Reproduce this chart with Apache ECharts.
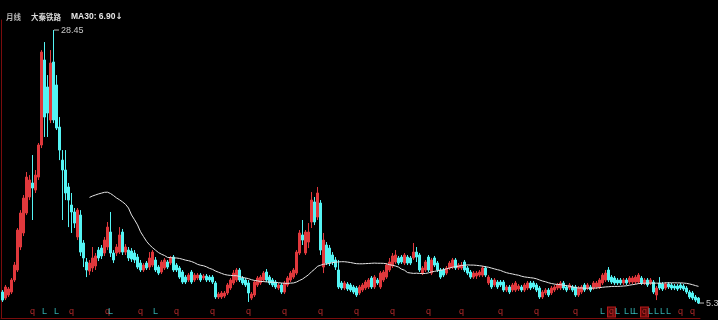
<!DOCTYPE html>
<html><head><meta charset="utf-8">
<script src="https://cdn.jsdelivr.net/npm/echarts@6/dist/echarts.min.js"></script>
<style>html,body{margin:0;padding:0;background:#000;}#c{width:718px;height:320px;}</style>
</head><body><div id="c"></div>
<script>
// Monthly OHLC, 大秦铁路 (601006), from 2006-08
const openV = [6.23,5.72,5.98,6.23,7.25,8.10,10.05,11.24,12.93,14.29,15.48,14.88,15.98,18.70,25.91,23.62,20.82,25.74,23.79,20.22,
17.42,16.58,15.14,13.61,13.02,10.90,12.76,10.39,8.78,8.01,8.27,8.44,9.79,9.96,9.54,10.05,11.32,9.54,9.54,9.62,
11.32,9.62,9.79,9.71,9.54,9.20,8.69,8.10,8.69,8.35,8.52,8.95,8.35,7.93,8.27,8.78,8.69,9.20,8.52,8.27,
7.93,7.50,7.25,7.93,7.25,7.42,7.67,7.42,7.59,7.50,7.50,7.00,5.81,5.81,5.89,6.15,6.57,7.00,7.25,8.10,
7.42,7.25,7.00,5.72,5.98,6.83,7.00,7.25,7.93,7.50,7.25,7.08,6.57,6.83,6.23,6.83,7.25,7.50,7.84,9.54,
11.07,9.54,10.47,12.17,13.87,12.59,13.78,8.35,10.22,9.96,9.37,8.95,8.10,7.00,6.57,6.91,6.83,6.66,6.57,6.15,
6.40,6.57,6.66,7.42,6.66,7.25,6.66,7.25,7.50,8.10,8.44,8.78,9.12,9.20,8.69,9.20,9.12,9.12,9.62,9.37,
7.84,8.10,9.20,7.84,9.12,8.69,8.10,8.10,7.84,8.27,8.35,8.95,8.27,8.27,8.78,8.27,7.93,7.50,7.59,7.67,
7.67,8.27,7.00,7.25,6.83,7.08,7.08,7.08,6.40,6.66,6.40,6.40,6.49,6.66,6.40,6.57,7.00,7.00,6.83,6.57,
5.81,6.15,6.40,6.15,6.40,6.57,6.57,7.00,6.66,6.57,6.66,6.66,5.98,6.23,6.83,6.57,6.66,6.57,6.66,6.66,
7.00,7.25,8.10,7.50,7.42,7.25,7.25,7.00,7.25,7.08,7.08,7.08,7.08,7.42,7.00,7.25,7.00,7.08,5.98,7.00,
6.91,6.57,6.91,6.83,6.74,6.74,6.83,6.74,6.57,6.23,6.15,5.81,5.72];
const closeV = [5.55,6.66,6.49,7.25,8.52,11.49,12.93,14.20,15.98,15.73,15.05,16.15,18.70,26.58,21.07,21.41,25.65,20.82,20.14,18.27,
16.58,14.63,14.03,13.02,12.08,13.18,9.62,9.12,8.10,8.69,9.12,9.29,9.12,9.29,10.64,11.74,9.54,8.95,10.05,11.07,
9.62,10.05,9.12,9.03,8.95,8.35,8.10,8.52,8.27,9.12,9.62,8.10,7.84,8.78,8.95,8.35,9.12,8.10,8.10,7.50,
7.08,7.08,7.67,7.08,7.67,7.67,7.25,7.59,7.25,7.25,7.08,5.81,6.06,6.15,6.15,6.83,7.25,7.84,8.10,7.25,
7.00,6.83,6.15,6.06,7.08,7.42,7.50,7.84,7.25,7.00,6.83,6.66,6.83,6.23,7.00,7.42,7.84,8.10,9.62,11.24,
10.64,11.32,11.32,14.03,12.17,14.63,9.79,10.64,8.69,8.69,8.78,8.35,6.66,6.57,7.00,6.49,6.40,6.23,5.98,6.66,
6.83,7.08,7.25,6.66,7.50,7.00,7.84,7.93,8.52,8.78,9.29,9.37,8.69,8.78,9.37,8.69,8.69,9.62,9.20,8.10,
8.27,8.78,8.10,8.95,8.52,8.10,7.50,7.67,8.27,8.69,8.95,8.27,8.52,8.52,8.10,7.84,7.50,7.84,7.84,7.93,
8.27,7.67,7.50,6.66,7.25,6.66,6.83,6.40,6.66,6.23,6.83,7.00,6.74,6.40,6.83,7.00,6.57,6.66,6.40,5.81,
6.23,6.40,5.98,6.57,6.66,6.83,7.00,6.57,6.40,6.83,6.40,5.98,6.57,6.66,6.40,6.83,6.40,7.00,7.00,7.25,
7.67,7.84,7.25,7.08,7.00,7.00,7.00,7.25,7.00,7.42,7.42,7.50,7.67,7.00,7.25,6.83,7.25,6.23,6.57,6.57,
6.49,6.91,6.66,6.57,6.57,6.49,6.57,6.49,6.23,5.81,5.72,5.55,5.30];
const lowV = [5.39,5.55,5.81,6.06,7.08,7.93,9.79,10.98,12.76,14.03,12.34,14.63,15.73,18.44,19.38,19.38,20.56,20.56,19.97,17.42,
12.34,14.03,11.74,11.24,11.66,10.64,9.29,8.35,7.50,7.67,7.93,8.10,8.86,9.03,9.29,9.79,9.20,8.69,9.29,9.46,
9.37,9.37,8.86,8.78,8.69,8.18,7.93,7.93,8.10,8.10,8.35,7.93,7.67,7.76,8.10,8.18,8.52,7.93,7.93,7.34,
6.91,6.91,7.08,6.91,7.08,7.25,7.08,7.25,7.08,7.08,6.91,5.64,5.64,5.64,5.72,5.98,6.40,6.83,7.08,7.08,
6.83,6.66,5.39,5.55,5.81,6.66,6.83,7.08,7.08,6.83,6.66,6.49,6.40,6.06,6.06,6.66,7.08,7.34,7.67,9.37,
10.22,9.37,9.96,11.66,11.91,12.34,9.37,7.84,8.52,8.44,8.52,8.10,6.49,6.40,6.40,6.32,6.23,6.06,5.81,5.98,
6.23,6.40,6.49,6.49,6.49,6.83,6.49,7.08,7.34,7.93,8.27,8.61,8.52,8.61,8.52,8.52,8.52,8.95,8.78,7.93,
7.67,7.93,7.93,7.67,8.35,7.93,7.34,7.50,7.67,8.10,8.18,8.10,8.10,8.10,7.93,7.67,7.34,7.34,7.34,7.50,
7.50,7.50,6.83,6.49,6.66,6.49,6.66,6.23,6.23,6.06,6.23,6.23,6.32,6.23,6.23,6.40,6.40,6.49,6.23,5.64,
5.64,5.98,5.81,5.98,6.23,6.40,6.40,6.40,6.23,6.40,6.23,5.81,5.81,6.06,6.23,6.40,6.23,6.40,6.49,6.49,
6.83,7.08,7.08,6.91,6.83,6.83,6.83,6.83,6.83,6.91,6.91,6.91,6.91,6.83,6.83,6.66,6.83,6.06,5.55,6.40,
6.32,6.40,6.49,6.40,6.40,6.32,6.40,6.32,6.06,5.64,5.55,5.39,5.22];
const highV = [6.40,6.83,6.66,7.42,8.78,11.66,13.18,14.46,16.41,16.15,17.85,16.58,18.87,26.75,27.43,24.63,26.75,28.45,24.63,21.07,
18.27,18.27,15.48,14.63,13.36,13.36,13.18,10.64,9.12,8.95,10.05,9.54,10.05,10.22,10.90,12.17,13.02,9.79,10.30,11.74,
11.58,10.30,10.05,9.96,9.79,9.46,8.95,8.69,8.86,9.62,9.79,9.20,8.52,8.95,9.12,8.95,9.29,9.37,8.69,8.44,
8.10,7.67,7.84,8.10,7.84,7.84,7.84,7.76,7.76,7.67,7.67,7.17,6.23,6.32,6.32,7.00,7.42,8.10,8.27,8.27,
7.59,7.42,7.25,6.23,7.25,7.59,7.67,8.01,8.18,7.67,7.42,7.25,7.00,7.00,7.17,7.59,8.01,8.27,9.79,11.49,
12.34,11.49,12.08,14.71,14.29,15.14,14.03,11.24,10.47,10.22,9.62,9.20,8.95,7.17,7.17,7.08,7.00,6.83,6.74,6.83,
7.00,7.25,7.42,7.59,7.67,7.42,8.01,8.10,8.69,9.12,9.54,9.79,9.29,9.37,9.54,9.37,9.29,10.39,10.05,9.54,
8.44,8.95,9.37,9.12,9.29,8.86,8.27,8.27,8.44,8.86,9.12,9.12,8.69,8.78,8.95,8.44,8.10,8.01,8.01,8.10,
8.44,8.44,7.67,7.42,7.42,7.25,7.25,7.25,6.83,6.83,7.00,7.17,6.91,6.83,7.00,7.17,7.17,7.17,7.00,6.74,
6.40,6.57,6.57,6.74,6.83,7.00,7.17,7.17,6.83,7.00,6.83,6.83,6.74,6.83,7.00,7.00,6.83,7.17,7.17,7.42,
7.84,8.10,8.35,7.67,7.59,7.42,7.42,7.42,7.42,7.59,7.59,7.67,7.84,7.59,7.42,7.42,7.42,7.25,6.74,7.50,
7.08,7.08,7.08,7.00,6.91,6.91,7.00,6.91,6.74,6.40,6.32,5.98,5.81];

const startYear = 2006, startMonth = 8;
const categories = openV.map((_, i) => {
  const m = startMonth - 1 + i;
  return (startYear + Math.floor(m / 12)) + '-' + String(m % 12 + 1).padStart(2, '0');
});

// event markers along the bottom (q = 权息, L = other)
const markerIdx   = [10,14,18,23,35,36,46,51,58,70,82,94,106,118,130,142,153,166,178,191,200,203,205,208,210,211,214,216,218,220,222,226,230];
const markerType  = ['q','L','L','q','q','L','q','L','q','q','q','q','q','q','q','q','q','q','q','q','L','q','L','L','L','L','q','L','L','L','L','q','q'];
const markerBoxed = [203,214];

const maPeriod = 30;
const maLabel = '6.90';
const stockName = '大秦铁路';
const periodName = '月线';

const ma = closeV.map((_, i) => {
  if (i < maPeriod - 1) return '-';
  let s = 0;
  for (let k = i - maPeriod + 1; k <= i; k++) s += closeV[k];
  return +(s / maPeriod).toFixed(3);
});
const ohlc = openV.map((o, i) => [o, closeV[i], lowV[i], highV[i]]);
const last = closeV.length - 1;

const chart = echarts.init(document.getElementById('c'), null, {renderer: 'canvas'});
chart.setOption({
  backgroundColor: '#000',
  animation: false,
  title: {
    left: 1, top: 3,
    text: '{a|' + periodName + '}  {b|' + stockName + '}  {c|MA30: ' + maLabel + '}{d|↓}',
    textStyle: {
      rich: {
        a: {color: '#b4b4b4', fontSize: 7.5, fontFamily: 'Noto Sans CJK SC'},
        b: {color: '#d8d8d8', fontSize: 7.5, fontFamily: 'Noto Sans CJK SC'},
        c: {color: '#e6e6e6', fontSize: 8.5, fontFamily: 'Liberation Sans'},
        d: {color: '#e6e6e6', fontSize: 8.5, fontFamily: 'DejaVu Sans'}
      }
    }
  },
  grid: [
    {left: 1, right: 18, top: 20, bottom: 2},
    {left: 1, right: 18, top: 305, height: 14}
  ],
  xAxis: [
    {type: 'category', data: categories, boundaryGap: true, gridIndex: 0,
     axisLine: {show: true, lineStyle: {color: '#7a0c0c', width: 1}},
     axisTick: {show: false}, axisLabel: {show: false}, splitLine: {show: false}},
    {type: 'category', data: categories, boundaryGap: true, gridIndex: 1, show: false}
  ],
  yAxis: [
    {type: 'value', min: 4.03, max: 29.30, gridIndex: 0,
     axisLine: {show: true, lineStyle: {color: '#7a0c0c', width: 1}},
     axisTick: {show: false}, axisLabel: {show: false}, splitLine: {show: false}},
    {type: 'value', min: 0, max: 1, gridIndex: 1, show: false}
  ],
  series: [
    {
      type: 'candlestick', data: ohlc, barWidth: 1.8,
      itemStyle: {color: '#e0383c', color0: '#54f4f4', borderColor: '#e0383c', borderColor0: '#54f4f4', borderWidth: 1},
      markPoint: {
        symbol: 'rect', symbolSize: [5, 1], symbolOffset: [3, 0],
        itemStyle: {color: '#bdbdbd'},
        label: {show: true, position: 'right', distance: 2, color: '#c8c8c8', fontSize: 9, fontFamily: 'Liberation Sans'},
        data: [
          {type: 'max', valueDim: 'highest', label: {formatter: (p) => Number(p.value).toFixed(2)}},
          {coord: [last, closeV[last]], value: closeV[last], label: {formatter: (p) => String(+p.value)}}
        ]
      }
    },
    {
      type: 'line', data: ma, symbol: 'none', smooth: false,
      lineStyle: {color: '#e4e4e4', width: 1}
    },
    {
      type: 'scatter', xAxisIndex: 1, yAxisIndex: 1, symbolSize: 0,
      data: markerIdx.map((idx, k) => {
        const isQ = markerType[k] === 'q';
        const boxed = markerBoxed.indexOf(idx) >= 0;
        return {
          value: [idx, 0.5],
          label: {
            show: true, position: 'inside', formatter: markerType[k],
            color: isQ ? '#e03434' : '#3cd8d8', fontSize: 9, fontFamily: 'Liberation Sans',
            borderColor: boxed ? '#e02020' : 'transparent', borderWidth: boxed ? 1 : 0,
            backgroundColor: boxed ? '#5a0808' : 'transparent', padding: boxed ? [0, 1] : 0
          }
        };
      })
    }
  ]
});
</script></body></html>
